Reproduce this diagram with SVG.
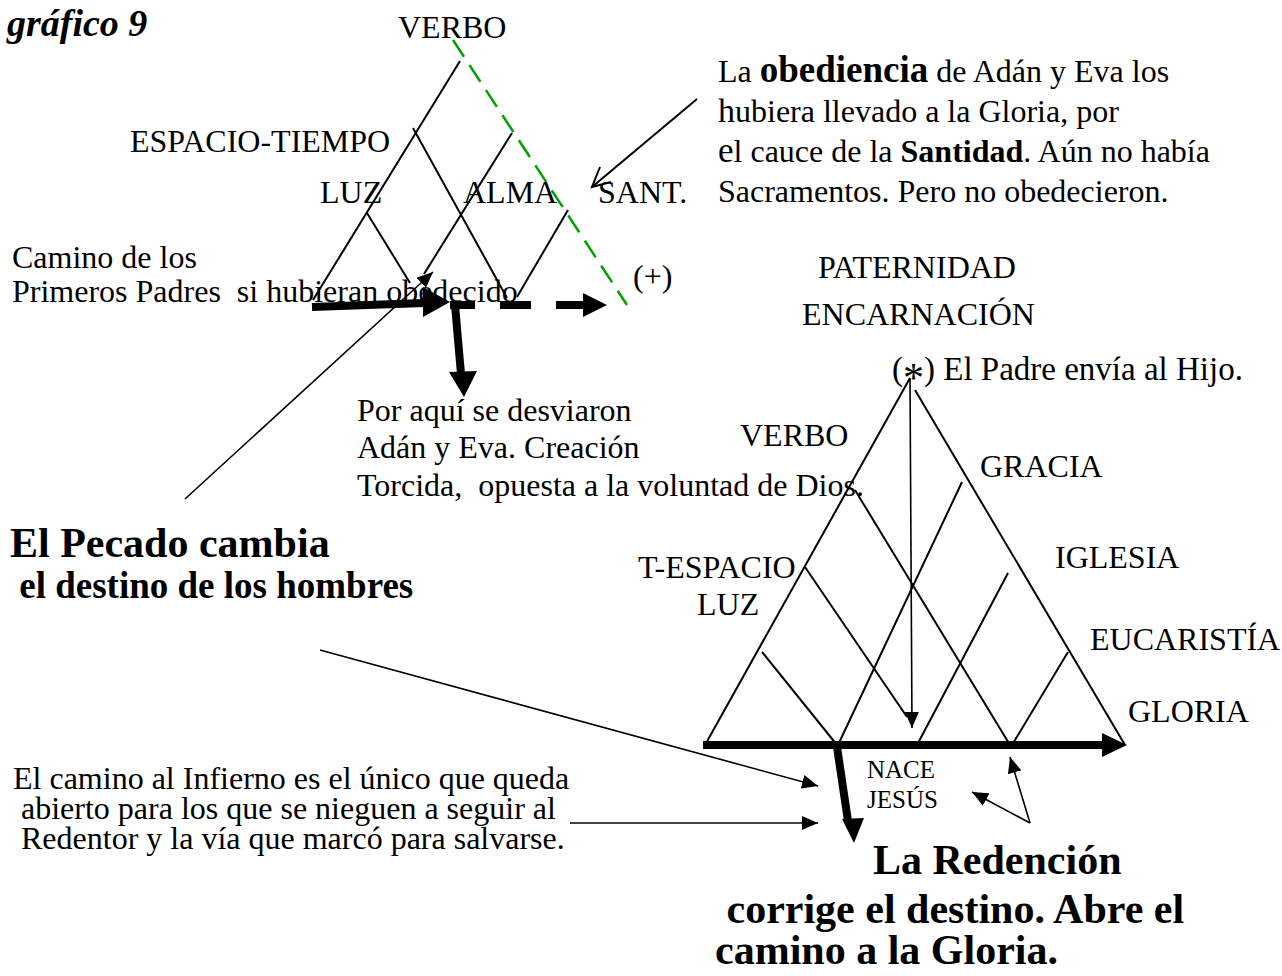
<svg xmlns="http://www.w3.org/2000/svg" width="1282" height="976" viewBox="0 0 1282 976">
<style>
text{font-family:"Liberation Serif","Times New Roman",serif;font-size:32px;fill:#000;white-space:pre}
.b{font-weight:bold}
.s42{font-size:42px}
.s37{font-size:37px}
.s38{font-size:38px}
.s33{font-size:33px}
.s25{font-size:25px}
.ln{stroke:#000;stroke-width:2;fill:none}
.thk{stroke:#000;stroke-width:8;fill:none}
.grn{stroke:#00a000;stroke-width:2.5;stroke-dasharray:20 10;fill:none}
.hd{fill:#000;stroke:none}
.arr{stroke:#000;stroke-width:1.6;fill:none;marker-end:url(#ah)}
</style>
<defs>
<marker id="ah" markerUnits="userSpaceOnUse" markerWidth="17" markerHeight="14" refX="16" refY="7" orient="auto"><path d="M0,0 L16,7 L0,14 z" fill="#000"/></marker>
</defs>
<rect width="1282" height="976" fill="#fff"/>

<g id="title"><text x="7" y="36" class="b s38" font-style="italic">gráfico 9</text></g>

<g id="left-triangle">
<line class="ln" x1="460" y1="61" x2="313" y2="300"/>
<line class="ln" x1="413" y1="128" x2="507" y2="298"/>
<line class="ln" x1="512" y1="133" x2="424" y2="274"/>
<line class="ln" x1="367" y1="213" x2="410" y2="283"/>
<line class="ln" x1="568" y1="210" x2="517" y2="297"/>
<line class="grn" x1="453" y1="40" x2="627" y2="305"/>
</g>

<g id="left-labels">
<text x="398" y="38">VERBO</text>
<text x="130" y="152">ESPACIO-TIEMPO</text>
<text x="320" y="203">LUZ</text>
<text x="463" y="203">ALMA</text>
<text x="598" y="203">SANT.</text>
<text x="633" y="287">(+)</text>
</g>

<g id="camino-text">
<text x="12" y="268">Camino de los</text>
<text x="12" y="302">Primeros Padres  si hubieran obedecido</text>
</g>

<g id="obediencia-text">
<text x="718" y="82">La <tspan font-weight="bold" font-size="37">obediencia</tspan> de Adán y Eva los</text>
<text x="718" y="122"><tspan font-size="34">h</tspan>ubiera llevado a la Gloria, por</text>
<text x="718" y="162"><tspan font-size="35">e</tspan>l cauce de la <tspan font-weight="bold">Santidad</tspan>. Aún no había</text>
<text x="718" y="202">Sacramentos. Pero no obedecieron.</text>
</g>

<g id="desviaron-text">
<text x="357" y="421">Por aquí se desviaron</text>
<text x="357" y="458">Adán y Eva. Creación</text>
<text x="357" y="496">Torcida,  opuesta a la voluntad de Dios.</text>
</g>

<g id="pecado-text">
<text x="10" y="557" class="b s42">El Pecado cambia</text>
<text x="10" y="598" class="b s37"> el destino de los hombres</text>
</g>

<g id="infierno-text">
<text x="13" y="789">El camino al Infierno es el único que queda</text>
<text x="13" y="819"> abierto para los que se nieguen a seguir al</text>
<text x="13" y="849"> Redentor y la vía que marcó para salvarse.</text>
</g>

<g id="right-labels">
<text x="818" y="278">PATERNIDAD</text>
<text x="802" y="325">ENCARNACIÓN</text>
<text x="892" y="380" class="s33">(<tspan font-size="42" dy="12">*</tspan><tspan dy="-12">) El Padre envía al Hijo.</tspan></text>
<text x="740" y="446">VERBO</text>
<text x="980" y="477">GRACIA</text>
<text x="1055" y="568">IGLESIA</text>
<text x="638" y="578">T-ESPACIO</text>
<text x="697" y="615">LUZ</text>
<text x="1090" y="650">EUCARISTÍA</text>
<text x="1128" y="722">GLORIA</text>
<text x="867" y="778" class="s25">NACE</text>
<text x="867" y="808" class="s25">JESÚS</text>
</g>

<g id="right-triangle">
<line class="ln" x1="910" y1="378" x2="705" y2="745"/>
<line class="ln" x1="915" y1="390" x2="1125" y2="745"/>
<line class="ln" x1="855" y1="490" x2="1010" y2="745"/>
<line class="ln" x1="805" y1="567" x2="907" y2="717"/>
<line class="ln" x1="762" y1="652" x2="837" y2="745"/>
<line class="ln" x1="962" y1="482" x2="838" y2="745"/>
<line class="ln" x1="1008" y1="573" x2="917" y2="745"/>
<line class="ln" x1="1068" y1="652" x2="1012" y2="745"/>
</g>

<g id="redencion-text">
<text x="873" y="874" class="b s42">La Redención</text>
<text x="716" y="923" class="b s42"> corrige el destino. Abre el</text>
<text x="715" y="964" class="b s42">camino a la Gloria.</text>
</g>

<g id="connectors">
<path class="thk" stroke-width="9" d="M312,307 L424,303"/>
<polygon class="hd" points="423,287 450,302 423,317"/>
<line class="thk" x1="450" y1="305" x2="475" y2="305"/>
<line class="thk" x1="500" y1="305" x2="531" y2="305"/>
<line class="thk" x1="556" y1="305" x2="585" y2="305"/>
<polygon class="hd" points="583,293 607,305 583,317"/>
<line class="thk" x1="455" y1="305" x2="461" y2="374"/>
<polygon class="hd" points="449,372 477,371 464,397"/>
<line class="arr" x1="185" y1="499" x2="433" y2="272"/>
<line class="ln" stroke-width="1.6" x1="697" y1="99" x2="592" y2="187"/>
<path class="ln" stroke-width="1.6" d="M600,167 L592,187 L611,182"/>
<line class="arr" x1="910" y1="378" x2="912" y2="728"/>
<line class="thk" x1="703" y1="745" x2="1104" y2="745"/>
<polygon class="hd" points="1102,733 1127,745 1102,757"/>
<line class="thk" stroke-width="6" x1="837" y1="747" x2="848" y2="821"/>
<polygon class="hd" points="842,819 864,818 854,843"/>
<line class="arr" x1="320" y1="650" x2="818" y2="786"/>
<line class="arr" x1="570" y1="823" x2="818" y2="823"/>
<line class="arr" x1="1030" y1="823" x2="1010" y2="757"/>
<line class="arr" x1="1030" y1="823" x2="972" y2="792"/>
</g>
</svg>
